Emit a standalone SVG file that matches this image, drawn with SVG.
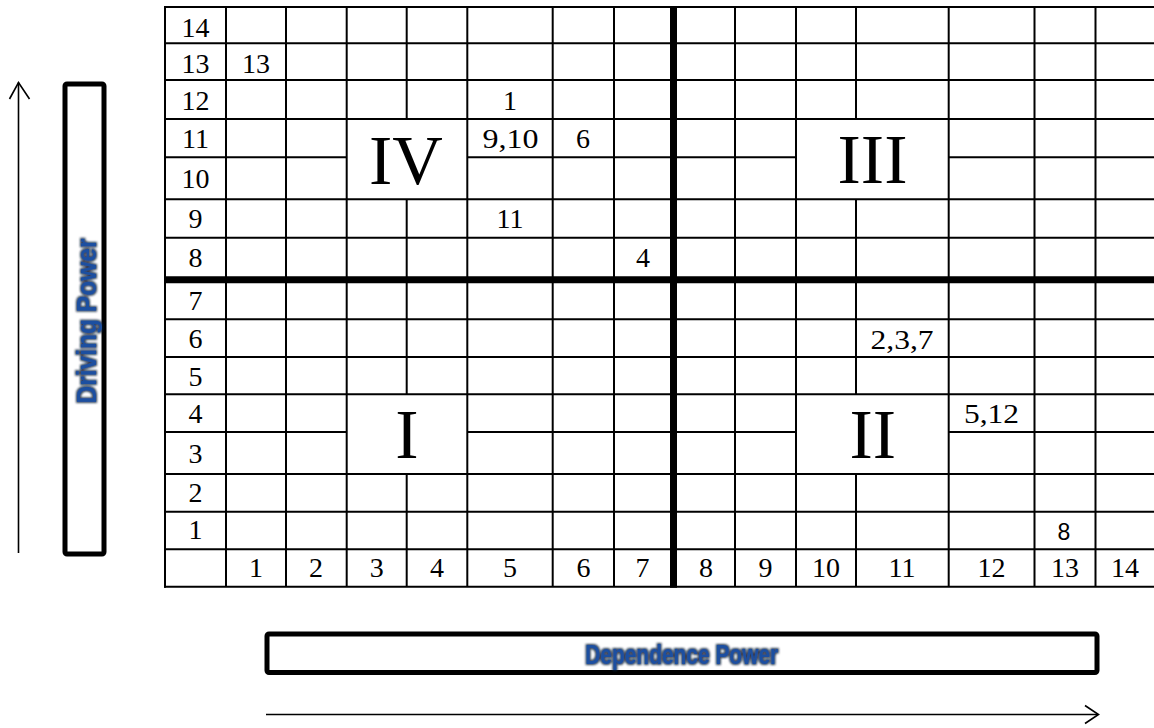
<svg xmlns="http://www.w3.org/2000/svg" width="1154" height="728" viewBox="0 0 1154 728">
<style>
.t{stroke:#000;stroke-width:2;fill:none}
.k{stroke:#000;stroke-width:7;fill:none}
.n{font-family:"Liberation Serif","Times New Roman",serif;font-size:28px;fill:#000;text-anchor:middle}
.q{font-family:"Liberation Serif","Times New Roman",serif;font-size:70px;fill:#000;text-anchor:middle}
.s{font-family:"Liberation Sans",Arial,sans-serif;font-size:23px;fill:#000;text-anchor:middle}
.ax{font-family:"Liberation Sans",Arial,sans-serif;font-size:28px;font-weight:bold;fill:#1f4fa0;text-anchor:middle}
.box{stroke:#000;stroke-width:5;fill:#fff}
.arr{stroke:#000;stroke-width:1.6;fill:none}
</style>
<defs>
<filter id="glow" x="-20%" y="-50%" width="140%" height="200%">
<feMorphology in="SourceAlpha" operator="dilate" radius="1" result="d"/>
<feGaussianBlur in="d" stdDeviation="1" result="b"/>
<feFlood flood-color="#0a1a35" flood-opacity="0.85"/>
<feComposite in2="b" operator="in" result="sh"/>
<feMerge><feMergeNode in="sh"/><feMergeNode in="SourceGraphic"/></feMerge>
</filter>
</defs>
<rect width="1154" height="728" fill="#fff"/>
<g id="grid">
<line class="t" x1="165" y1="7" x2="1154" y2="7"/>
<line class="t" x1="165" y1="43.3" x2="1154" y2="43.3"/>
<line class="t" x1="165" y1="80" x2="1154" y2="80"/>
<line class="t" x1="165" y1="119" x2="1154" y2="119"/>
<line class="t" x1="165" y1="157.3" x2="346.7" y2="157.3"/>
<line class="t" x1="467.3" y1="157.3" x2="796" y2="157.3"/>
<line class="t" x1="948.7" y1="157.3" x2="1154" y2="157.3"/>
<line class="t" x1="165" y1="199.3" x2="1154" y2="199.3"/>
<line class="t" x1="165" y1="237.7" x2="1154" y2="237.7"/>
<line class="t" x1="165" y1="319.3" x2="1154" y2="319.3"/>
<line class="t" x1="165" y1="357" x2="1154" y2="357"/>
<line class="t" x1="165" y1="394.2" x2="1154" y2="394.2"/>
<line class="t" x1="165" y1="432" x2="346.7" y2="432"/>
<line class="t" x1="467.3" y1="432" x2="796" y2="432"/>
<line class="t" x1="948.7" y1="432" x2="1154" y2="432"/>
<line class="t" x1="165" y1="474" x2="1154" y2="474"/>
<line class="t" x1="165" y1="511.7" x2="1154" y2="511.7"/>
<line class="t" x1="165" y1="549.3" x2="1154" y2="549.3"/>
<line class="t" x1="164" y1="586.7" x2="1154" y2="586.7"/>
<line class="t" x1="165" y1="6" x2="165" y2="587.7"/>
<line class="t" x1="226" y1="7" x2="226" y2="586.7"/>
<line class="t" x1="286" y1="7" x2="286" y2="586.7"/>
<line class="t" x1="346.7" y1="7" x2="346.7" y2="586.7"/>
<line class="t" x1="406.7" y1="7" x2="406.7" y2="119"/>
<line class="t" x1="406.7" y1="199.3" x2="406.7" y2="394.2"/>
<line class="t" x1="406.7" y1="474" x2="406.7" y2="586.7"/>
<line class="t" x1="467.3" y1="7" x2="467.3" y2="586.7"/>
<line class="t" x1="552.7" y1="7" x2="552.7" y2="586.7"/>
<line class="t" x1="614" y1="7" x2="614" y2="586.7"/>
<line class="t" x1="735" y1="7" x2="735" y2="586.7"/>
<line class="t" x1="796" y1="7" x2="796" y2="586.7"/>
<line class="t" x1="856" y1="7" x2="856" y2="119"/>
<line class="t" x1="856" y1="199.3" x2="856" y2="394.2"/>
<line class="t" x1="856" y1="474" x2="856" y2="586.7"/>
<line class="t" x1="948.7" y1="7" x2="948.7" y2="586.7"/>
<line class="t" x1="1034.5" y1="7" x2="1034.5" y2="586.7"/>
<line class="t" x1="1095.5" y1="7" x2="1095.5" y2="586.7"/>
<line class="k" x1="165" y1="279.7" x2="1154" y2="279.7"/>
<line class="k" x1="673.5" y1="6" x2="673.5" y2="587.7"/>
</g>
<g id="row-labels">
<text class="n" x="195.5" y="36.5">14</text>
<text class="n" x="195.5" y="72.7">13</text>
<text class="n" x="195.5" y="110">12</text>
<text class="n" x="195.5" y="148.3">11</text>
<text class="n" x="195.5" y="188.3">10</text>
<text class="n" x="195.5" y="228">9</text>
<text class="n" x="195.5" y="267">8</text>
<text class="n" x="195.5" y="310">7</text>
<text class="n" x="195.5" y="348.3">6</text>
<text class="n" x="195.5" y="385.5">5</text>
<text class="n" x="195.5" y="423.3">4</text>
<text class="n" x="195.5" y="463.3">3</text>
<text class="n" x="195.5" y="501.7">2</text>
<text class="n" x="195.5" y="539">1</text>
</g>
<g id="col-labels">
<text class="n" x="256" y="577.3">1</text>
<text class="n" x="316" y="577.3">2</text>
<text class="n" x="376.7" y="577.3">3</text>
<text class="n" x="437" y="577.3">4</text>
<text class="n" x="510" y="577.3">5</text>
<text class="n" x="583.4" y="577.3">6</text>
<text class="n" x="642.5" y="577.3">7</text>
<text class="n" x="706" y="577.3">8</text>
<text class="n" x="765.5" y="577.3">9</text>
<text class="n" x="826" y="577.3">10</text>
<text class="n" x="902" y="577.3">11</text>
<text class="n" x="991.6" y="577.3">12</text>
<text class="n" x="1065" y="577.3">13</text>
<text class="n" x="1125" y="577.3">14</text>
</g>
<g id="cells">
<text class="n" x="256" y="72.7">13</text>
<text class="n" x="510" y="110">1</text>
<text class="n" x="510.5" y="148.3" textLength="56" lengthAdjust="spacingAndGlyphs">9,10</text>
<text class="n" x="583" y="148.3">6</text>
<text class="n" x="510" y="228">11</text>
<text class="n" x="643" y="267">4</text>
<text class="n" x="902" y="349" textLength="63" lengthAdjust="spacingAndGlyphs">2,3,7</text>
<text class="n" x="991.5" y="423.3" textLength="55" lengthAdjust="spacingAndGlyphs">5,12</text>
<text class="s" x="1064" y="540">8</text>
</g>
<g id="quadrants">
<text class="q" x="406" y="184">IV</text>
<text class="q" x="872.5" y="183.3">III</text>
<text class="q" x="407" y="458.3">I</text>
<text class="q" x="872.8" y="458.3">II</text>
</g>
<g id="driving-power">
<rect class="box" x="65" y="84" width="39" height="470" rx="2"/>
<text class="ax" x="0" y="0" transform="translate(96,321) rotate(-90)" textLength="165" lengthAdjust="spacingAndGlyphs" filter="url(#glow)">Driving Power</text>
</g>
<g id="dependence-power">
<rect class="box" x="267" y="634" width="830" height="38.5" rx="2"/>
<text class="ax" x="681.7" y="664" textLength="193" lengthAdjust="spacingAndGlyphs" filter="url(#glow)">Dependence Power</text>
</g>
<g id="connectors">
<line class="arr" x1="18.5" y1="553" x2="18.5" y2="82.5"/>
<polyline class="arr" points="9.5,99 18.5,82.5 29.5,99"/>
<line class="arr" x1="266" y1="714.5" x2="1098" y2="714.5"/>
<polyline class="arr" points="1085,705.5 1098.5,714.5 1085,723.5"/>
</g>
</svg>
